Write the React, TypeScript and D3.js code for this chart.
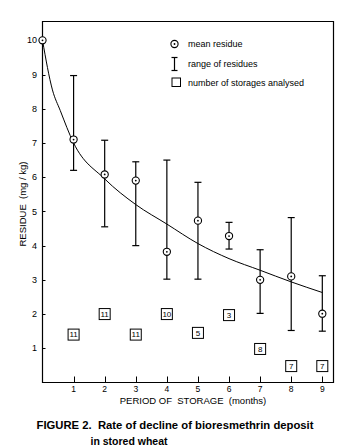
import React from 'react'
import * as d3 from 'd3'

// months 0..9, mean residue and range (mg/kg)
const months = [0, 1, 2, 3, 4, 5, 6, 7, 8, 9]
const meanResidue = [10, 7.1, 6.08, 5.9, 3.82, 4.73, 4.28, 3.0, 3.1, 2.01]
const rangeLow = [null, 6.2, 4.55, 4.0, 3.02, 3.02, 3.9, 2.02, 1.52, 1.5]
const rangeHigh = [null, 8.97, 7.08, 6.45, 6.5, 5.85, 4.68, 3.88, 4.82, 3.12]

// number of storages analysed (box label + vertical position)
const storageMonths = [1, 2, 3, 4, 5, 6, 7, 8, 9]
const storageCounts = ['11', '11', '11', '10', '5', '3', '8', '7', '7']
const storageLevel = [1.4, 2.0, 1.4, 2.0, 1.45, 1.97, 0.98, 0.48, 0.48]

// fitted decline curve
const curveMonths = [0, 0.32, 0.57, 1, 2, 3, 4, 5, 6, 7, 8, 9]
const curveValues = [10, 8.55, 7.95, 7.0, 5.95, 5.2, 4.63, 4.06, 3.62, 3.28, 2.94, 2.63]

const xTicks = [1, 2, 3, 4, 5, 6, 7, 8, 9]
const yTicks = [1, 2, 3, 4, 5, 6, 7, 8, 9, 10]

const W = 359, H = 448
const left = 42.5, right = 333.5, top = 21.5, bottom = 382.5
const font = '"Liberation Sans", Arial, sans-serif'

export default function App() {
  const x = d3.scaleLinear().domain([0, 9.36]).range([left, right])
  const y = d3.scaleLinear().domain([0, 10.55]).range([bottom, top])

  const line = d3.line<number>()
    .x((d, i) => x(curveMonths[i]))
    .y(d => y(d))
    .curve(d3.curveMonotoneX)

  const cap = 3.5

  return (
    <svg width={W} height={H} style={{ position: 'absolute', left: 0, top: 0, background: '#fff' }}
      fontFamily={font}>
      {/* frame */}
      <path d={`M${left},${bottom}V${top}H${right}V${bottom}Z`} fill="none" stroke="#000" strokeWidth={1.2} />

      {/* y ticks */}
      {yTicks.map(t => (
        <g key={'y' + t}>
          <line x1={left} x2={left + 3} y1={Math.round(y(t)) + 0.5} y2={Math.round(y(t)) + 0.5} stroke="#000" />
          <text x={37} y={y(t)} dy="0.35em" fontSize={9} textAnchor="end">{t}</text>
        </g>
      ))}

      {/* x ticks */}
      {xTicks.map(t => (
        <g key={'x' + t}>
          <line x1={Math.round(x(t)) + 0.5} x2={Math.round(x(t)) + 0.5} y1={bottom} y2={bottom - 6} stroke="#000" />
          <text x={x(t)} y={391.5} fontSize={8.5} textAnchor="middle">{t}</text>
        </g>
      ))}

      {/* axis titles */}
      <text x={193} y={403.5} fontSize={9.5} textAnchor="middle">
        PERIOD OF&#160; STORAGE&#160; (months)
      </text>
      <text transform={`translate(23,204) rotate(-90)`} dy="0.35em" fontSize={9.5} textAnchor="middle">
        RESIDUE&#160; (mg / kg)
      </text>

      {/* fitted curve */}
      <path d={line(curveValues) || ''} fill="none" stroke="#000" strokeWidth={1} />

      {/* range bars */}
      {months.map((m, i) => rangeLow[i] == null ? null : (
        <g key={'r' + m} stroke="#000" strokeWidth={1.2}>
          <line x1={x(m)} x2={x(m)} y1={y(rangeLow[i] as number)} y2={y(rangeHigh[i] as number)} />
          <line x1={x(m) - cap} x2={x(m) + cap} y1={y(rangeLow[i] as number)} y2={y(rangeLow[i] as number)} />
          <line x1={x(m) - cap} x2={x(m) + cap} y1={y(rangeHigh[i] as number)} y2={y(rangeHigh[i] as number)} />
        </g>
      ))}

      {/* mean residue markers */}
      {months.map((m, i) => (
        <g key={'m' + m}>
          <circle cx={x(m)} cy={y(meanResidue[i])} r={3.6} fill="#fff" stroke="#000" strokeWidth={1.1} />
          <circle cx={x(m)} cy={y(meanResidue[i])} r={0.9} fill="#000" />
        </g>
      ))}

      {/* storage count boxes */}
      {storageMonths.map((m, i) => (
        <g key={'s' + i}>
          <rect x={x(m) - 5.5} y={y(storageLevel[i]) - 5.5} width={11} height={11} fill="#fff" stroke="#000" strokeWidth={1} />
          <text x={x(m)} y={y(storageLevel[i])} dy="0.35em" fontSize={8} textAnchor="middle">{storageCounts[i]}</text>
        </g>
      ))}

      {/* legend */}
      <g fontSize={9}>
        <circle cx={174.5} cy={44} r={3.6} fill="#fff" stroke="#000" strokeWidth={1.1} />
        <circle cx={174.5} cy={44} r={0.9} fill="#000" />
        <text x={188} y={44} dy="0.35em">mean residue</text>

        <g stroke="#000" strokeWidth={1.2}>
          <line x1={174.5} x2={174.5} y1={57.5} y2={70.5} />
          <line x1={171.5} x2={177.5} y1={57.5} y2={57.5} />
          <line x1={171.5} x2={177.5} y1={70.5} y2={70.5} />
        </g>
        <text x={188} y={63.5} dy="0.35em">range of residues</text>

        <rect x={172} y={78} width={8.5} height={8.5} fill="#fff" stroke="#000" />
        <text x={188} y={82.5} dy="0.35em">number of storages analysed</text>
      </g>

      {/* caption */}
      <text x={36.5} y={425} dy="0.35em" fontSize={10.5} fontWeight="bold" textLength={277} lengthAdjust="spacingAndGlyphs">
        FIGURE 2.&#160; Rate of decline of bioresmethrin deposit
      </text>
      <text x={90.5} y={441} dy="0.35em" fontSize={10.5} fontWeight="bold">
        in stored wheat
      </text>
    </svg>
  )
}
